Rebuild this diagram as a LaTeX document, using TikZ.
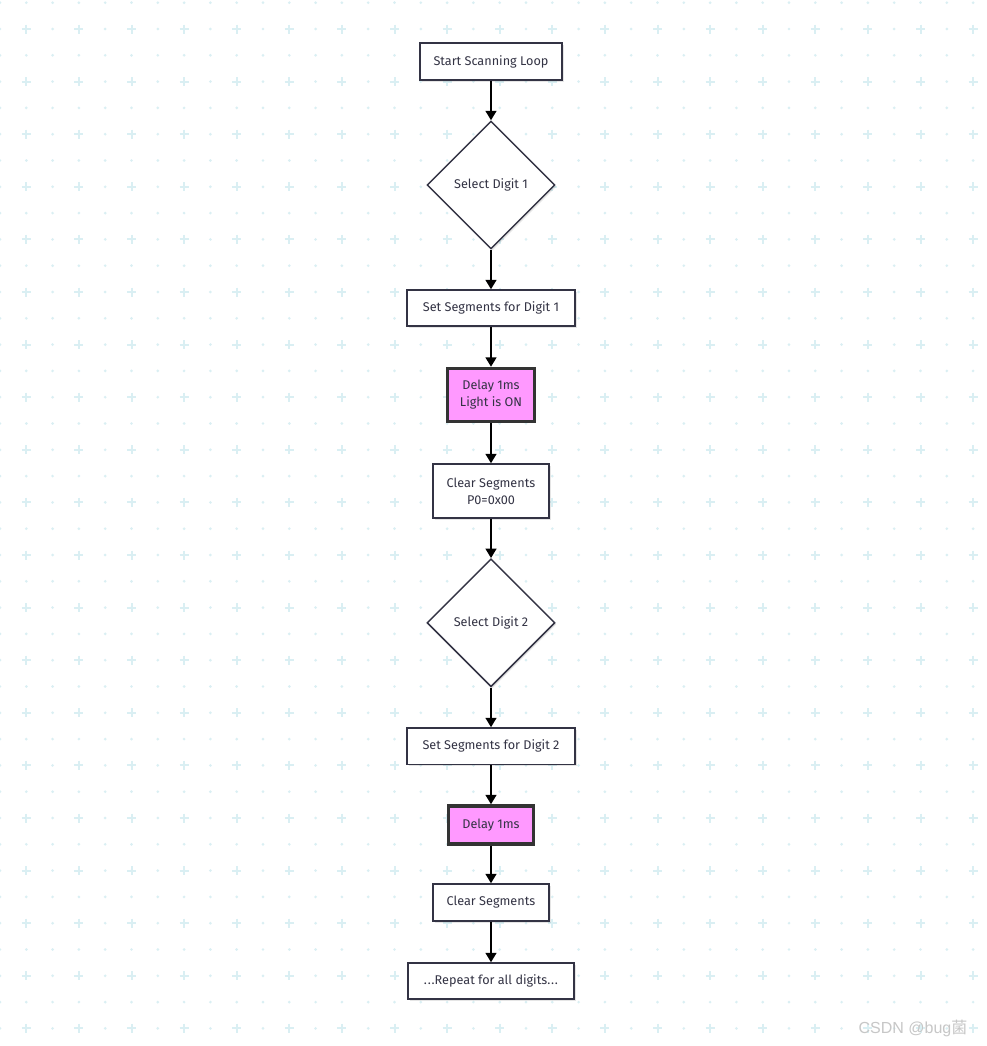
\documentclass[tikz,border=0pt]{standalone}
\usepackage{fontspec}
\setmainfont{Fira Sans}
\newfontfamily\cjkfont{Noto Sans CJK SC}
\usetikzlibrary{shapes.geometric, arrows.meta, shadows}

\definecolor{gridcyan}{RGB}{218,239,243}
\definecolor{boxline}{RGB}{51,51,68}
\definecolor{textgray}{RGB}{51,51,68}
\definecolor{delaypink}{RGB}{255,153,255}

\begin{document}
\begin{tikzpicture}[x=0.75pt, y=-0.75pt,
    box/.style={draw=boxline, line width=1.1pt, fill=white, text=textgray, align=center, inner sep=0pt,
        font=\fontsize{9.5}{12.75}\selectfont,
        drop shadow={shadow xshift=1.2pt, shadow yshift=-1.2pt, fill=black, opacity=0.1}},
    decision/.style={box, diamond, aspect=1, minimum size=96pt},
    delay/.style={box, draw=black!80, line width=2.6pt, fill=delaypink},
    flow/.style={-{Triangle[length=7pt, width=8pt]}, line width=1.5pt, black}]

    \fill[white] (0,0) rectangle (987,1046);
    \useasboundingbox (0,0) rectangle (987,1046);

    % background grid
    \foreach \i in {0,...,37}
        \foreach \j in {0,...,39}
            \fill[gridcyan] (26.3*\i, 2.7+26.3*\j) circle (1.1pt);
    \foreach \i in {1,3,...,37}
        \foreach \j in {1,3,...,39}
            \draw[gridcyan, line width=1.5pt] (26.3*\i-4.5, 2.7+26.3*\j) -- +(9,0)
                (26.3*\i, 2.7+26.3*\j-4.5) -- +(0,9);

    % digit 1
    \node (start) at (491,61.5) [box, minimum width=106.5pt, minimum height=27.75pt] {Start Scanning Loop};
    \node (sel1) at (491,185) [decision] {Select Digit 1};
    \node (seg1) at (491,308) [box, minimum width=126pt, minimum height=27pt] {Set Segments for Digit 1};
    \node (delay1) at (491,395) [delay, minimum width=65pt, minimum height=39.75pt] {Delay 1ms\\Light is ON};
    \node (clr1) at (491,491) [box, minimum width=87pt, minimum height=40.5pt] {Clear Segments\\P0=0x00};

    % digit 2
    \node (sel2) at (491,622.8) [decision] {Select Digit 2};
    \node (seg2) at (491,746.3) [box, minimum width=126pt, minimum height=27.5pt] {Set Segments for Digit 2};
    \node (delay2) at (491,825) [delay, minimum width=63.75pt, minimum height=28.5pt] {Delay 1ms};
    \node (clr2) at (491,902.5) [box, minimum width=87pt, minimum height=27.75pt] {Clear Segments};
    \node (rep) at (491,981) [box, minimum width=124.5pt, minimum height=27pt] {.\kern0.6pt.\kern0.6pt.Repeat for all digits.\kern0.6pt.\kern0.6pt.};

    \draw [flow] (start)--(sel1);
    \draw [flow] (sel1)--(seg1);
    \draw [flow] (seg1)--(delay1);
    \draw [flow] (delay1)--(clr1);
    \draw [flow] (clr1)--(sel2);
    \draw [flow] (sel2)--(seg2);
    \draw [flow] (seg2)--(delay2);
    \draw [flow] (delay2)--(clr2);
    \draw [flow] (clr2)--(rep);

    % watermark
    \node (mark) at (913,1028) [text=black!22, font=\fontsize{12}{14}\selectfont] {\setmainfont{Liberation Sans}CSDN @bug{\cjkfont 菌}};

\end{tikzpicture}
\end{document}
